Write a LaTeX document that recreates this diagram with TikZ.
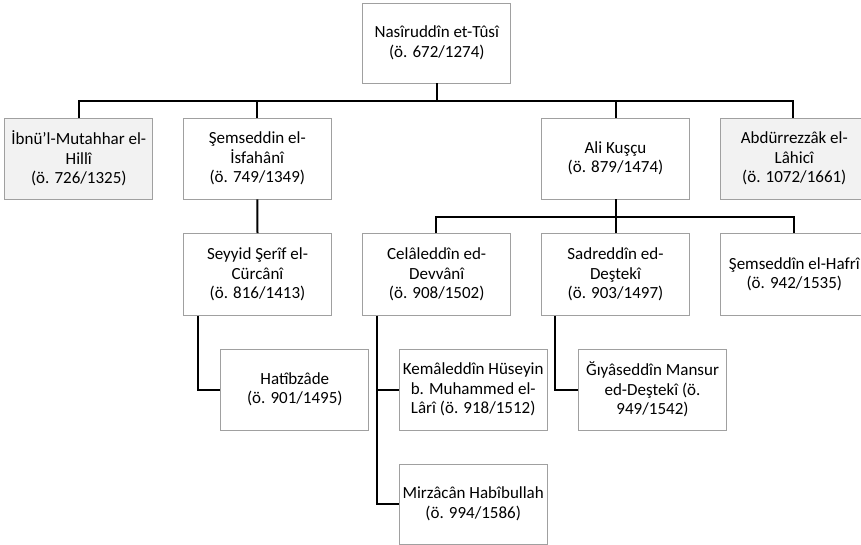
\documentclass[tikz,border=0pt]{standalone}
\usepackage{fontspec}
\setmainfont{Carlito}
\definecolor{boxline}{HTML}{A0A0A0}
\definecolor{boxgray}{HTML}{F2F2F2}
\begin{document}
\begin{tikzpicture}[x=1pt,y=-1pt,
  frame/.style={draw=boxline, line width=0.8pt},
  person/.style={frame, fill=white, minimum width=148pt, minimum height=81pt,
    inner sep=0pt, align=center, font=\fontsize{17}{19.5}\selectfont, text=black},
  shaded/.style={person, fill=boxgray},
  bare/.style={person, draw=none, fill=none},
  link/.style={line width=2pt, black}]
\useasboundingbox (0,0) rectangle (861,545);
\clip (0,0) rectangle (861,545);
% boxes running past the right edge
\path[frame, fill=boxgray] (720.7,118) rectangle (880,199);
\path[frame, fill=white] (720.7,233.5) rectangle (880,315.5);
% boxes
\node[person, minimum height=80pt] (tusi) at (436.8,43) {Nasîruddîn et-Tûsî\\[1pt](ö. 672/1274)};
\node[shaded] (ibnu) at (78.8,158.5) {İbnü'l-Mutahhar el-\\Hillî\\(ö. 726/1325)};
\node[person] (isfa) at (257.3,158.5) {Şemseddin el-\\İsfahânî\\(ö. 749/1349)};
\node[person] (ali) at (615.5,158.5) {Ali Kuşçu\\(ö. 879/1474)};
\node[bare, minimum width=147.3pt] (abdur) at (794.3,158.5) {Abdürrezzâk el-\\Lâhicî\\(ö. 1072/1661)};
\node[person, minimum height=82pt] (seyyid) at (257.5,274.5) {Seyyid Şerîf el-\\Cürcânî\\(ö. 816/1413)};
\node[person, minimum height=82pt] (celal) at (436.7,274.5) {Celâleddîn ed-\\Devvânî\\(ö. 908/1502)};
\node[person, minimum height=82pt] (sadr) at (615.5,274.5) {Sadreddîn ed-\\Deştekî\\(ö. 903/1497)};
\node[bare, minimum height=82pt, minimum width=147.3pt] (hafri) at (794.3,274.5) {Şemseddîn el-Hafrî\\(ö. 942/1535)};
\node[person] (hatib) at (294.8,389.5) {Hatîbzâde\\(ö. 901/1495)};
\node[person] (kemal) at (473.2,389.5) {Kemâleddîn Hüseyin\\b. Muhammed el-\\Lârî (ö. 918/1512)};
\node[person] (giyas) at (652.5,389.5) {Ğıyâseddîn Mansur\\ed-Deştekî (ö.\\949/1542)};
\node[person, minimum height=80pt] (mirza) at (473.2,504) {Mirzâcân Habîbullah\\(ö. 994/1586)};
% bus points
\coordinate (b1) at (436.8,101.5);
\coordinate (b2) at (615.5,216.7);
% connectors
\draw[link] (tusi.south) -- (b1);
\draw[link] (ibnu.north) |- (b1) -| ([xshift=-1pt]abdur.north);
\draw[link] (isfa.north) -- (isfa.north |- b1);
\draw[link] (ali.north) -- (ali.north |- b1);
\draw[link] (isfa.south) -- (seyyid.north);
\draw[link] (ali.south) -- (b2);
\draw[link] ([xshift=-1pt]celal.north) |- (b2) -| (hafri.north);
\draw[link] (sadr.north) -- (sadr.north |- b2);
\draw[link] ([xshift=15pt]seyyid.south west) |- (hatib.west);
\draw[link] ([xshift=14.6pt]celal.south west) |- (kemal.west);
\draw[link] ([xshift=14.6pt]celal.south west) |- (mirza.west);
\draw[link] ([xshift=14.3pt]sadr.south west) |- (giyas.west);
\end{tikzpicture}
\end{document}
